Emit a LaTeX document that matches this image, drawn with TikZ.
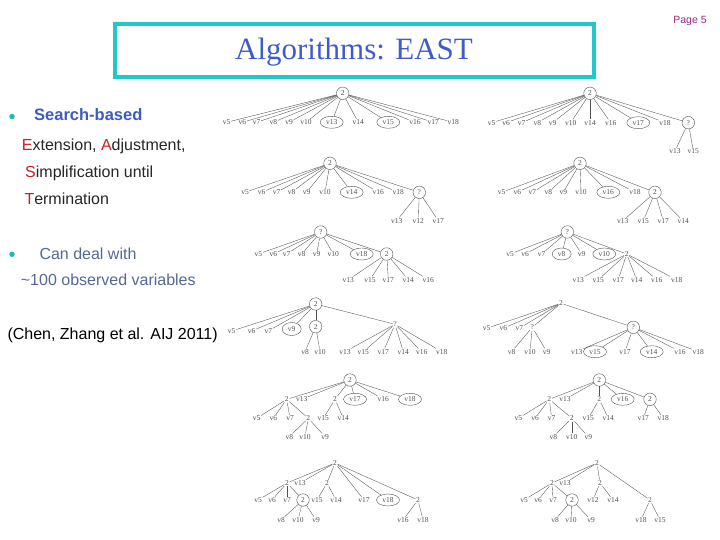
\documentclass[tikz,border=0pt]{standalone}
\usepackage{fontspec}
\setmainfont{Liberation Serif}
\setsansfont{Liberation Sans}
\usetikzlibrary{shapes.geometric}

\definecolor{titleblue}{RGB}{62,92,200}
\definecolor{framecyan}{RGB}{32,200,200}
\definecolor{pagepurple}{RGB}{150,40,140}
\definecolor{bulletteal}{RGB}{30,185,185}
\definecolor{headblue}{RGB}{60,92,190}
\definecolor{slateblue}{RGB}{84,104,150}
\definecolor{initred}{RGB}{205,30,40}
\definecolor{treegray}{RGB}{80,80,80}

\newcommand\treefont{\fontsize{7.5}{8}\selectfont}
\newcommand\initial[1]{\textcolor{initred}{#1}}

\begin{document}
\begin{tikzpicture}[
    x=1pt, y=-1pt,
    edge/.style = {treegray, line width=0.35pt},
    obs/.style  = {inner sep=0.6pt, font=\treefont, text=treegray},
    lat/.style  = {obs, draw=treegray, circle, inner sep=0.2pt, minimum size=12.5pt},
    sel/.style  = {obs, draw=treegray, ellipse, inner sep=0pt,
                   minimum width=23pt, minimum height=12pt},
    txt/.style  = {anchor=base west, inner sep=0pt,
                   font=\sffamily\fontsize{16}{18}\selectfont},
    dot/.style  = {circle, fill=bulletteal, inner sep=0pt, minimum size=5.5pt}
]
\useasboundingbox (0,0) rectangle (720,540);

% Title and page number
\draw[framecyan, line width=3.6pt] (115,24) rectangle (594,77);
\node[titleblue, font=\fontsize{31}{34}\selectfont] (title) at (354,52) {Algorithms: EAST};
\node[pagepurple, font=\sffamily\fontsize{10.5}{12}\selectfont] (page) at (690,21) {Page 5};

% Left column text
\node[dot] (b1) at (12,116.5) {};
\node[txt, headblue, font=\sffamily\bfseries\fontsize{16.5}{18}\selectfont] (search) at (34,121) {Search-based};
\node[txt, text=black!85] (east1) at (21.7,151) {\initial{E}xtension, \initial{A}djustment,};
\node[txt, text=black!85] (east2) at (25,177.5) {\initial{S}implification until};
\node[txt, text=black!85] (east3) at (24.3,204.5) {\initial{T}ermination};
\node[dot] (b2) at (12,254.3) {};
\node[txt, slateblue] (deal) at (39.3,259) {Can deal with};
\node[txt, slateblue] (vars) at (20.7,285.5) {\textasciitilde100 observed variables};
\node[txt, text=black] (cite) at (7.3,339.5) {(Chen, Zhang et al. AIJ 2011)};

% ---- Tree 1 (row 1, left)
\node[lat] (t1-r) at (342.7,93.3) {2};
\foreach \n/\x in {v5/226.7, v6/242.3, v7/256.7, v8/273.3, v9/289, v10/306,
                   v14/358.3, v16/415, v17/433.3, v18/453.3}
  \node[obs] (t1-\n) at (\x,122.3) {\n};
\node[sel] (t1-v13) at (331.7,122.3) {v13};
\node[sel] (t1-v15) at (388.3,122.3) {v15};
\foreach \n in {v5,v6,v7,v8,v9,v10,v13,v14,v15,v16,v17,v18}
  \draw[edge] (t1-r) -- (t1-\n);

% ---- Tree 2 (row 1, right)
\node[lat] (t2-r) at (590,93.3) {2};
\foreach \n/\x in {v5/491.7, v6/506, v7/521.7, v8/537.3, v9/552.7, v10/570.7,
                   v14/590, v16/610.7, v18/665}
  \node[obs] (t2-\n) at (\x,122.7) {\n};
\node[sel] (t2-v17) at (638.3,122.7) {v17};
\node[lat] (t2-h) at (688.3,122.7) {?};
\node[obs] (t2-v13) at (675,151) {v13};
\node[obs] (t2-v15) at (693.3,151) {v15};
\foreach \n in {v5,v6,v7,v8,v9,v10,v14,v16,v17,v18,h}
  \draw[edge] (t2-r) -- (t2-\n);
\foreach \n in {v13,v15}
  \draw[edge] (t2-h) -- (t2-\n);

% ---- Tree 3 (row 2, left)
\node[lat] (t3-r) at (330,163.3) {2};
\foreach \n/\x in {v5/245, v6/261.7, v7/276.7, v8/291.7, v9/306.7, v10/325,
                   v16/378.3, v18/398.3}
  \node[obs] (t3-\n) at (\x,192.3) {\n};
\node[sel] (t3-v14) at (351.7,192.3) {v14};
\node[lat] (t3-h) at (419.3,192.3) {?};
\foreach \n/\x in {v13/396.7, v12/418.3, v17/438.3}
  \node[obs] (t3-\n) at (\x,220.7) {\n};
\foreach \n in {v5,v6,v7,v8,v9,v10,v14,v16,v18,h}
  \draw[edge] (t3-r) -- (t3-\n);
\foreach \n in {v13,v12,v17}
  \draw[edge] (t3-h) -- (t3-\n);

% ---- Tree 4 (row 2, right)
\node[lat] (t4-r) at (580,163.3) {2};
\foreach \n/\x in {v5/501.7, v6/517.3, v7/532.3, v8/548.3, v9/563.3, v10/581,
                   v18/635}
  \node[obs] (t4-\n) at (\x,192.3) {\n};
\node[sel] (t4-v16) at (608.3,192.3) {v16};
\node[lat] (t4-h) at (655,192.3) {2};
\foreach \n/\x in {v13/622.7, v15/643.3, v17/663.3, v14/683.3}
  \node[obs] (t4-\n) at (\x,221) {\n};
\foreach \n in {v5,v6,v7,v8,v9,v10,v16,v18,h}
  \draw[edge] (t4-r) -- (t4-\n);
\foreach \n in {v13,v15,v17,v14}
  \draw[edge] (t4-h) -- (t4-\n);

% ---- Tree 5 (row 3, left)
\node[lat] (t5-r) at (320.7,232) {?};
\foreach \n/\x in {v5/258.3, v6/273.3, v7/286.7, v8/301.7, v9/316.7, v10/333.3}
  \node[obs] (t5-\n) at (\x,254) {\n};
\node[sel] (t5-v18) at (361.7,254) {v18};
\node[lat] (t5-h) at (386.7,254) {2};
\foreach \n/\x in {v13/348.3, v15/370, v17/388.3, v14/408.3, v16/428.3}
  \node[obs] (t5-\n) at (\x,279.7) {\n};
\foreach \n in {v5,v6,v7,v8,v9,v10,v18,h}
  \draw[edge] (t5-r) -- (t5-\n);
\foreach \n in {v13,v15,v17,v14,v16}
  \draw[edge] (t5-h) -- (t5-\n);

% ---- Tree 6 (row 3, right)
\node[lat] (t6-r) at (567.3,232) {?};
\foreach \n/\x in {v5/510, v6/525, v7/541.7, v9/581.7}
  \node[obs] (t6-\n) at (\x,254) {\n};
\node[sel, minimum width=19pt] (t6-v8) at (561.7,254) {v8};
\node[sel] (t6-v10) at (604.3,254) {v10};
\node[obs] (t6-h) at (626.7,254) {2};
\foreach \n/\x in {v13/578.3, v15/598.3, v17/618.3, v14/636.7, v16/656.7, v18/676.7}
  \node[obs] (t6-\n) at (\x,279.7) {\n};
\foreach \n in {v5,v6,v7,v8,v9,v10,h}
  \draw[edge] (t6-r) -- (t6-\n);
\foreach \n in {v13,v15,v17,v14,v16,v18}
  \draw[edge] (t6-h) -- (t6-\n);

% ---- Tree 7 (row 4, left)
\node[lat] (t7-r) at (315.7,304) {2};
\foreach \n/\x in {v5/231.7, v6/251.7, v7/268.3}
  \node[obs] (t7-\n) at (\x,331) {\n};
\node[sel, minimum width=19pt, minimum height=13pt] (t7-v9) at (291.7,329) {v9};
\node[lat] (t7-h) at (315.7,326.7) {2};
\node[obs] (t7-g) at (395,324.3) {?};
\foreach \n/\x in {v8/305, v10/320}
  \node[obs] (t7-\n) at (\x,351.7) {\n};
\foreach \n/\x in {v13/345, v15/363.3, v17/383.3, v14/403.3, v16/421.7, v18/441.7}
  \node[obs] (t7-\n) at (\x,351.7) {\n};
\foreach \n in {v5,v6,v7,v9,h,g}
  \draw[edge] (t7-r) -- (t7-\n);
\foreach \n in {v8,v10}
  \draw[edge] (t7-h) -- (t7-\n);
\foreach \n in {v13,v15,v17,v14,v16,v18}
  \draw[edge] (t7-g) -- (t7-\n);

% ---- Tree 8 (row 4, right)
\node[obs] (t8-r) at (561,303.3) {2};
\foreach \n/\x in {v5/486.7, v6/503.3, v7/519.3}
  \node[obs] (t8-\n) at (\x,328.3) {\n};
\node[obs] (t8-h) at (532.3,327.3) {?};
\node[lat] (t8-g) at (633.3,327.3) {?};
\foreach \n/\x in {v8/511.7, v10/530, v9/546.7, v13/576.7, v17/625, v16/680, v18/698.3}
  \node[obs] (t8-\n) at (\x,351.7) {\n};
\node[sel] (t8-v15) at (595,351.7) {v15};
\node[sel] (t8-v14) at (651.7,351.7) {v14};
\foreach \n in {v5,v6,v7,h,g}
  \draw[edge] (t8-r) -- (t8-\n);
\foreach \n in {v8,v10,v9}
  \draw[edge] (t8-h) -- (t8-\n);
\foreach \n in {v13,v15,v17,v14,v16,v18}
  \draw[edge] (t8-g) -- (t8-\n);

% ---- Tree 9 (row 5, left)
\node[lat] (t9-r) at (350,380) {2};
\node[obs] (t9-a) at (286.7,399.3) {2};
\node[obs] (t9-v13) at (301.7,399.3) {v13};
\node[obs] (t9-b) at (335,399.3) {2};
\node[sel] (t9-v17) at (355,399.3) {v17};
\node[obs] (t9-v16) at (383.3,399.3) {v16};
\node[sel] (t9-v18) at (410,399.3) {v18};
\foreach \n/\x in {v5/256.7, v6/273.3, v7/290, v15/323.3, v14/343.3}
  \node[obs] (t9-\n) at (\x,418.3) {\n};
\node[obs] (t9-c) at (308.3,418.3) {2};
\foreach \n/\x in {v8/289.3, v10/305, v9/325}
  \node[obs] (t9-\n) at (\x,436.7) {\n};
\foreach \n in {a,v13,b,v17,v16,v18}
  \draw[edge] (t9-r) -- (t9-\n);
\foreach \n in {v5,v6,v7,c}
  \draw[edge] (t9-a) -- (t9-\n);
\foreach \n in {v8,v10,v9}
  \draw[edge] (t9-c) -- (t9-\n);
\foreach \n in {v15,v14}
  \draw[edge] (t9-b) -- (t9-\n);

% ---- Tree 10 (row 5, right)
\node[lat] (t10-r) at (599.3,380) {2};
\node[obs] (t10-a) at (549.3,399.3) {2};
\node[obs] (t10-v13) at (565,399.3) {v13};
\node[obs] (t10-b) at (599.3,399.3) {2};
\node[sel] (t10-v16) at (622.7,399.3) {v16};
\node[lat] (t10-d) at (650,399.3) {2};
\foreach \n/\x in {v5/518.3, v6/535, v7/551.7, v15/588.3, v14/608.3, v17/643.3, v18/663.3}
  \node[obs] (t10-\n) at (\x,418.3) {\n};
\node[obs] (t10-c) at (571.7,418.3) {2};
\foreach \n/\x in {v8/553.3, v10/571.7, v9/588.3}
  \node[obs] (t10-\n) at (\x,436.7) {\n};
\foreach \n in {a,v13,b,v16,d}
  \draw[edge] (t10-r) -- (t10-\n);
\foreach \n in {v5,v6,v7,c}
  \draw[edge] (t10-a) -- (t10-\n);
\foreach \n in {v8,v10,v9}
  \draw[edge] (t10-c) -- (t10-\n);
\foreach \n in {v15,v14}
  \draw[edge] (t10-b) -- (t10-\n);
\foreach \n in {v17,v18}
  \draw[edge] (t10-d) -- (t10-\n);

% ---- Tree 11 (row 6, left)
\node[obs] (t11-r) at (335,463) {2};
\node[obs] (t11-a) at (287,483) {2};
\node[obs] (t11-v13) at (300,483) {v13};
\node[obs] (t11-b) at (327,483) {2};
\foreach \n/\x in {v5/258, v6/272, v7/287, v15/317, v14/336, v17/364}
  \node[obs] (t11-\n) at (\x,500) {\n};
\node[lat] (t11-c) at (303,500) {2};
\node[sel] (t11-v18) at (388,500) {v18};
\node[obs] (t11-d) at (418,500) {2};
\foreach \n/\x in {v8/281, v10/298, v9/316}
  \node[obs] (t11-\n) at (\x,520) {\n};
\node[obs] (t11-e) at (403,520) {v16};
\node[obs] (t11-f) at (423,520) {v18};
\foreach \n in {a,v13,b,v17,v18,d}
  \draw[edge] (t11-r) -- (t11-\n);
\foreach \n in {v5,v6,v7,c}
  \draw[edge] (t11-a) -- (t11-\n);
\foreach \n in {v8,v10,v9}
  \draw[edge] (t11-c) -- (t11-\n);
\foreach \n in {v15,v14}
  \draw[edge] (t11-b) -- (t11-\n);
\foreach \n in {e,f}
  \draw[edge] (t11-d) -- (t11-\n);

% ---- Tree 12 (row 6, right)
\node[obs] (t12-r) at (597,463) {2};
\node[obs] (t12-a) at (552,483) {2};
\node[obs] (t12-v13) at (565,483) {v13};
\node[obs] (t12-b) at (600,483) {2};
\foreach \n/\x in {v5/524, v6/538, v7/553, v12/593, v14/613}
  \node[obs] (t12-\n) at (\x,500) {\n};
\node[lat] (t12-c) at (572,500) {2};
\node[obs] (t12-d) at (650,500) {2};
\foreach \n/\x in {v8/555, v10/571, v9/591, v18/641, v15/660}
  \node[obs] (t12-\n) at (\x,520) {\n};
\foreach \n in {a,v13,b,d}
  \draw[edge] (t12-r) -- (t12-\n);
\foreach \n in {v5,v6,v7,c}
  \draw[edge] (t12-a) -- (t12-\n);
\foreach \n in {v8,v10,v9}
  \draw[edge] (t12-c) -- (t12-\n);
\foreach \n in {v12,v14}
  \draw[edge] (t12-b) -- (t12-\n);
\foreach \n in {v18,v15}
  \draw[edge] (t12-d) -- (t12-\n);

\end{tikzpicture}
\end{document}
